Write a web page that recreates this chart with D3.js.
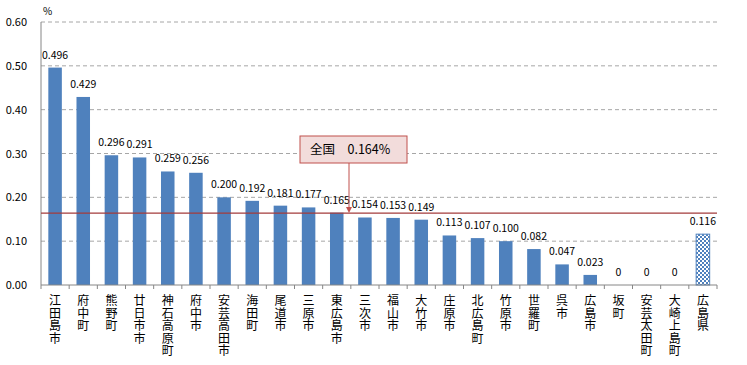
<!DOCTYPE html>
<html>
<head>
<meta charset="utf-8">
<style>
body { margin: 0; background: #fff; }
text { font-family: "Noto Sans CJK JP", "DejaVu Sans", sans-serif; }
</style>
</head>
<body>
<script src="https://d3js.org/d3.v7.min.js"></script>
<script>

const width = 747;
const height = 365;

const cities = ['江田島市', '府中町', '熊野町', '廿日市市', '神石高原町', '府中市', '安芸高田市', '海田町',
  '尾道市', '三原市', '東広島市', '三次市', '福山市', '大竹市', '庄原市', '北広島町', '竹原市', '世羅町',
  '呉市', '広島市', '坂町', '安芸太田町', '大崎上島町', '広島県'];
const values = [0.496, 0.429, 0.296, 0.291, 0.259, 0.256, 0.200, 0.192,
  0.181, 0.177, 0.165, 0.154, 0.153, 0.149, 0.113, 0.107, 0.100, 0.082,
  0.047, 0.023, 0, 0, 0, 0.116];
const labels = ['0.496', '0.429', '0.296', '0.291', '0.259', '0.256', '0.200', '0.192',
  '0.181', '0.177', '0.165', '0.154', '0.153', '0.149', '0.113', '0.107', '0.100', '0.082',
  '0.047', '0.023', '0', '0', '0', '0.116'];
const yTicks = [0, 0.1, 0.2, 0.3, 0.4, 0.5, 0.6];
const national = 0.164;

const svg = d3.select('body')
  .append('svg')
  .attr('width', width)
  .attr('height', height);

const defs = svg.append('defs');
const pat = defs.append('pattern')
  .attr('id', 'checker')
  .attr('width', 4).attr('height', 4)
  .attr('patternUnits', 'userSpaceOnUse');
pat.append('rect').attr('width', 4).attr('height', 4).attr('fill', '#fff');
pat.append('rect').attr('width', 2).attr('height', 2).attr('fill', '#4f81bd');
pat.append('rect').attr('x', 2).attr('y', 2).attr('width', 2).attr('height', 2).attr('fill', '#4f81bd');

const mLeft = 41, mRight = 717, mTop = 22, mBottom = 285;

const x = d3.scaleBand().domain(cities).range([mLeft, mRight]).paddingInner(0.52).paddingOuter(0.26);
const y = d3.scaleLinear().domain([0, 0.6]).range([mBottom, mTop]);

// gridlines
svg.append('g')
  .selectAll('line')
  .data(yTicks.filter(d => d > 0))
  .enter()
  .append('line')
  .attr('x1', mLeft).attr('x2', mRight)
  .attr('y1', d => y(d)).attr('y2', d => y(d))
  .attr('stroke', '#a6a6a6')
  .attr('stroke-dasharray', '4,3');

// y tick labels
svg.append('g')
  .selectAll('text')
  .data(yTicks)
  .enter()
  .append('text')
  .attr('x', 27)
  .attr('y', d => y(d) + 4)
  .attr('text-anchor', 'end')
  .attr('font-size', 11)
  .attr('fill', '#000')
  .text(d => d.toFixed(2));

svg.append('text')
  .attr('x', 43).attr('y', 15)
  .attr('font-size', 10)
  .text('%');

// bars
svg.append('g')
  .selectAll('rect')
  .data(cities)
  .enter()
  .append('rect')
  .attr('x', d => x(d))
  .attr('y', (d, i) => y(values[i]))
  .attr('width', x.bandwidth())
  .attr('height', (d, i) => mBottom - y(values[i]))
  .attr('fill', d => d === '広島県' ? 'url(#checker)' : '#4f81bd')
  .attr('stroke', d => d === '広島県' ? '#4f81bd' : 'none');

// value labels
svg.append('g')
  .selectAll('text')
  .data(cities)
  .enter()
  .append('text')
  .attr('x', d => x(d) + x.bandwidth() / 2)
  .attr('y', (d, i) => y(values[i]) - 9)
  .attr('text-anchor', 'middle')
  .attr('font-size', 10.5)
  .text((d, i) => labels[i]);

// axes lines
svg.append('line')
  .attr('x1', mLeft).attr('x2', mLeft)
  .attr('y1', mTop).attr('y2', mBottom)
  .attr('stroke', '#868686');
svg.append('line')
  .attr('x1', mLeft).attr('x2', mRight)
  .attr('y1', mBottom).attr('y2', mBottom)
  .attr('stroke', '#868686');

const step = (mRight - mLeft) / cities.length;
svg.append('g')
  .selectAll('line')
  .data(d3.range(cities.length + 1))
  .enter()
  .append('line')
  .attr('x1', i => mLeft + i * step).attr('x2', i => mLeft + i * step)
  .attr('y1', mBottom).attr('y2', mBottom + 4)
  .attr('stroke', '#868686');

// vertical category labels, one text per character
const chars = cities.flatMap(name => Array.from(name).map((ch, j) => ({ ch, j, name })));
svg.append('g')
  .selectAll('text')
  .data(chars)
  .enter()
  .append('text')
  .attr('font-size', 12)
  .attr('text-anchor', 'middle')
  .attr('x', d => x(d.name) + x.bandwidth() / 2)
  .attr('y', d => 305 + d.j * 12.5)
  .text(d => d.ch);

// national line
svg.append('line')
  .attr('x1', mLeft).attr('x2', mRight)
  .attr('y1', y(national)).attr('y2', y(national))
  .attr('stroke', '#a33b3b')
  .attr('stroke-width', 1.2);

// callout
const boxX = 300, boxY = 136, boxW = 107, boxH = 27;
const arrowX = 349;
svg.append('line')
  .attr('x1', arrowX).attr('x2', arrowX)
  .attr('y1', boxY + boxH).attr('y2', y(national) - 5)
  .attr('stroke', '#c0504d');
svg.append('path')
  .attr('d', `M${arrowX - 3},${y(national) - 6}L${arrowX + 3},${y(national) - 6}L${arrowX},${y(national)}Z`)
  .attr('fill', '#c0504d');
svg.append('rect')
  .attr('x', boxX).attr('y', boxY)
  .attr('width', boxW).attr('height', boxH)
  .attr('fill', '#f2dcdb')
  .attr('stroke', '#c0504d');
svg.append('text')
  .attr('x', boxX + 10).attr('y', boxY + 18)
  .attr('font-size', 12.5)
  .text('全国　0.164%');

</script>
</body>
</html>
